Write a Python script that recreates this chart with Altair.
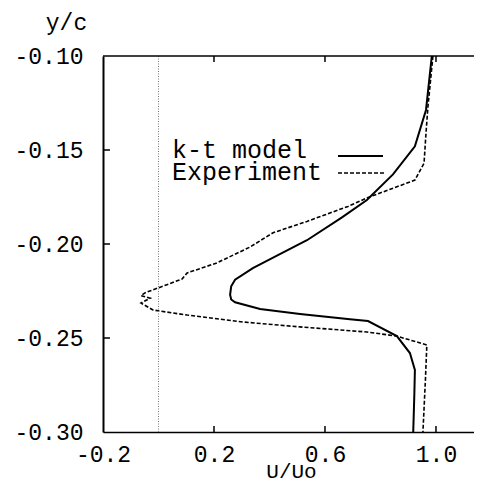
import altair as alt
import pandas as pd

# k-t model (solid) profile: U/Uo vs y/c
model_u = [0.985, 0.964, 0.924, 0.845, 0.751, 0.66, 0.535, 0.42, 0.34, 0.276, 0.262, 0.258, 0.262, 0.276, 0.366, 0.51, 0.69, 0.755, 0.859, 0.906, 0.924, 0.922, 0.918]
model_y = [-0.100, -0.1287, -0.148, -0.163, -0.1766, -0.186, -0.198, -0.2067, -0.2128, -0.219, -0.2225, -0.227, -0.2295, -0.231, -0.2346, -0.2372, -0.240, -0.241, -0.249, -0.258, -0.267, -0.280, -0.300]

# Experiment (dashed) profile
exp_u = [0.989, 0.971, 0.964, 0.957, 0.924, 0.751, 0.683, 0.535, 0.413, 0.33, 0.21, 0.103, 0.085, -0.049, -0.063, -0.03, -0.063, -0.02, 0.103, 0.305, 0.51, 0.751, 0.859, 0.967, 0.962, 0.953]
exp_y = [-0.100, -0.127, -0.141, -0.157, -0.166, -0.1755, -0.180, -0.188, -0.194, -0.2016, -0.2101, -0.2154, -0.2186, -0.226, -0.2275, -0.2288, -0.2314, -0.2351, -0.2378, -0.2415, -0.2441, -0.2468, -0.249, -0.2537, -0.272, -0.300]

x_ticks = [-0.2, 0.2, 0.6, 1.0]
y_ticks = [-0.30, -0.25, -0.20, -0.15, -0.10]
inner_x_ticks = [0.2, 0.6, 1.0]
inner_y_ticks = [-0.15, -0.20, -0.25]
legend_labels = ["k-t model", "Experiment"]

FONT = "Liberation Mono"
W, H = 371, 376
XDOM = [-0.2, 1.137]
YDOM = [-0.30, -0.10]

model_df = pd.DataFrame({"u": model_u, "y": model_y, "i": range(len(model_u))})
exp_df = pd.DataFrame({"u": exp_u, "y": exp_y, "i": range(len(exp_u))})

xlab = "datum.value < 0 ? '-' + format(-datum.value, '.1f') : format(datum.value, '.1f')"
ylab = "datum.value < 0 ? '-' + format(-datum.value, '.2f') : format(datum.value, '.2f')"

xenc = alt.X("u:Q", scale=alt.Scale(domain=XDOM, nice=False, zero=False),
             axis=alt.Axis(values=x_ticks, labelExpr=xlab, ticks=False, grid=False,
                           domainColor="black", domainWidth=1.5, labelFlush=False,
                           labelOverlap=False, labelPadding=11, labelFontSize=23,
                           labelFont=FONT, labelColor="black",
                           title="U/Uo", titleFont=FONT, titleFontSize=21,
                           titleFontWeight="normal", titleColor="black", titlePadding=-6,
                           titleX=188, titleAlign="center"))
yenc = alt.Y("y:Q", scale=alt.Scale(domain=YDOM, nice=False, zero=False),
             axis=alt.Axis(values=y_ticks, labelExpr=ylab, ticks=False, grid=False,
                           domainColor="black", domainWidth=2, labelFlush=False,
                           labelOverlap=False, labelPadding=20, labelFontSize=23,
                           labelFont=FONT, labelColor="black",
                           title="y/c", titleFont=FONT, titleFontSize=23,
                           titleFontWeight="normal", titleColor="black",
                           titleAngle=0, titleX=-37, titleY=-34,
                           titleAlign="center", titleBaseline="middle"))

model = alt.Chart(model_df).mark_line(color="black", strokeWidth=2, clip=True).encode(
    x=xenc, y=yenc, order="i:Q")
exp = alt.Chart(exp_df).mark_line(color="black", strokeWidth=1.6, strokeDash=[4, 2], clip=True).encode(
    x="u:Q", y="y:Q", order="i:Q")

zero = alt.Chart(pd.DataFrame({"u": [0.0]})).mark_rule(
    color="#777", strokeWidth=1, strokeDash=[1, 1.5]).encode(
    x="u:Q", y=alt.value(0), y2=alt.value(H))

top = alt.Chart(pd.DataFrame({"a": [0]})).mark_rule(color="black", strokeWidth=1.5).encode(
    x=alt.value(0), x2=alt.value(W), y=alt.value(0))

xt_df = pd.DataFrame({"u": inner_x_ticks})
bt = alt.Chart(xt_df).mark_rule(color="black", strokeWidth=1.5).encode(
    x="u:Q", y=alt.value(H), y2=alt.value(H - 6))
tt = alt.Chart(xt_df).mark_rule(color="black", strokeWidth=1.5).encode(
    x="u:Q", y=alt.value(0), y2=alt.value(6))
lt = alt.Chart(pd.DataFrame({"y": inner_y_ticks})).mark_rule(color="black", strokeWidth=1.5).encode(
    y="y:Q", x=alt.value(0), x2=alt.value(7))

leg_df = pd.DataFrame({"label": legend_labels})
leg1 = alt.Chart(leg_df).transform_filter(alt.datum.label == legend_labels[0]).mark_text(
    font=FONT, fontSize=25, align="left", baseline="alphabetic", color="black").encode(
    text="label:N", x=alt.value(69), y=alt.value(102))
leg2 = alt.Chart(leg_df).transform_filter(alt.datum.label == legend_labels[1]).mark_text(
    font=FONT, fontSize=25, align="left", baseline="alphabetic", color="black").encode(
    text="label:N", x=alt.value(69), y=alt.value(124))
ls1 = alt.Chart(pd.DataFrame({"a": [0]})).mark_rule(color="black", strokeWidth=2).encode(
    x=alt.value(235), x2=alt.value(280), y=alt.value(100))
ls2 = alt.Chart(pd.DataFrame({"a": [0]})).mark_rule(color="black", strokeWidth=1.6, strokeDash=[4, 2]).encode(
    x=alt.value(235), x2=alt.value(282), y=alt.value(117))

chart = alt.layer(model, exp, zero, top, bt, tt, lt, leg1, leg2, ls1, ls2).properties(
    width=W, height=H,
    autosize=alt.AutoSizeParams(type="none"),
    padding={"left": 95, "top": 48, "right": 0, "bottom": 50},
    background="white",
).configure_view(stroke=None)

chart.save("out.html", embed_options={"renderer": "svg", "actions": False})
